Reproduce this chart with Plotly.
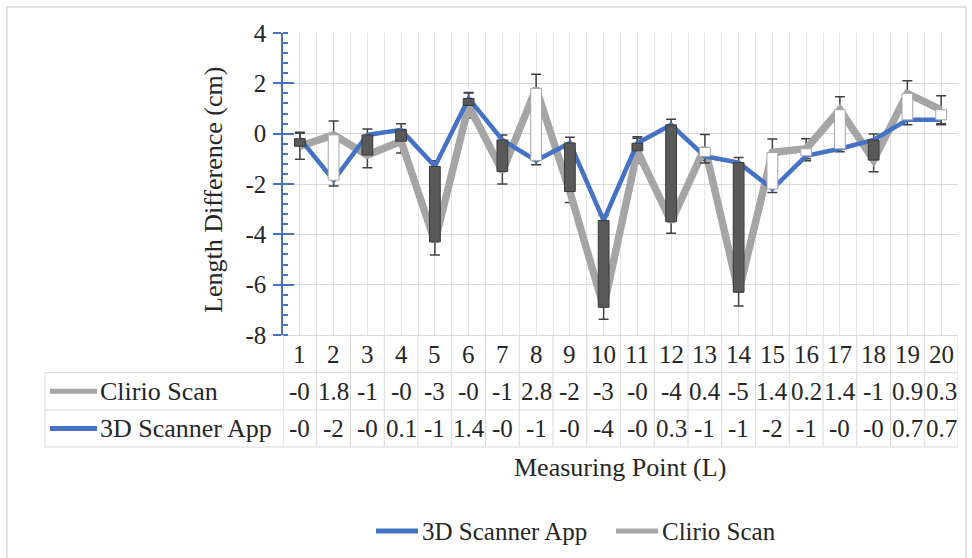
import plotly.graph_objects as go

# ---------------- data ----------------
points = list(range(1, 21))
point_labels = [str(p) for p in points]
scanner_app = [-0.2, -1.85, -0.05, 0.15, -1.3, 1.4, -0.25, -1.07, -0.37, -3.45,
               -0.38, 0.35, -0.9, -1.15, -2.2, -0.88, -0.6, -0.25, 0.55, 0.55]
clirio_scan = [-0.5, -0.05, -0.85, -0.3, -4.3, 1.12, -1.5, 1.8, -2.3, -6.9,
               -0.68, -3.5, -0.55, -6.3, -0.75, -0.6, 0.95, -1.05, 1.6, 0.95]
scanner_err = [0.26, 0.23, 0.24, 0.24, 0.22, 0.24, 0.2, 0.17, 0.23, 0.2,
               0.26, 0.22, 0.27, 0.2, 0.14, 0.2, 0.12, 0.24, 0.2, 0.2]
clirio_err = [0.52, 0.55, 0.5, 0.47, 0.52, 0.5, 0.5, 0.56, 0.44, 0.47,
              0.5, 0.46, 0.52, 0.55, 0.54, 0.4, 0.52, 0.46, 0.5, 0.56]
table_clirio = ["-0", "1.8", "-1", "-0", "-3", "-0", "-1", "2.8", "-2", "-3",
                "-0", "-4", "0.4", "-5", "1.4", "0.2", "1.4", "-1", "0.9", "0.3"]
table_scanner = ["-0", "-2", "-0", "0.1", "-1", "1.4", "-0", "-1", "-0", "-4",
                 "-0", "0.3", "-1", "-1", "-2", "-1", "-0", "-0", "0.7", "0.7"]
series_names = ["3D Scanner App", "Clirio Scan"]
y_ticks = [-8, -6, -4, -2, 0, 2, 4]

# ---------------- layout helpers ----------------
W, H = 972, 558
L, R, T, B = 283, 958, 33, 335
FONT = "Liberation Serif"
TXT = "#262626"
BLUE = "#4472C4"
GRAY = "#A5A5A5"
GRID = "#d9d9d9"


def px(xp):
    return (xp - L) / (R - L)


def py(yp):
    return (B - yp) / (B - T)


fig = go.Figure()

# lines with error bars (base subplot)
fig.add_trace(go.Scatter(
    x=points, y=clirio_scan, mode="lines", name=series_names[1],
    line=dict(color=GRAY, width=7.5), showlegend=False,
    error_y=dict(type="data", array=clirio_err, color="#404040", thickness=1.5, width=5)))
fig.add_trace(go.Scatter(
    x=points, y=scanner_app, mode="lines", name=series_names[0],
    line=dict(color=BLUE, width=4.5), showlegend=False,
    error_y=dict(type="data", array=scanner_err, color="#404040", thickness=1.5, width=5)))

# up/down bars (overlay subplot, drawn above lines)
down_base = [c if c < s else None for s, c in zip(scanner_app, clirio_scan)]
down_h = [s - c if c < s else None for s, c in zip(scanner_app, clirio_scan)]
up_base = [s if c >= s else None for s, c in zip(scanner_app, clirio_scan)]
up_h = [c - s if c >= s else None for s, c in zip(scanner_app, clirio_scan)]
fig.add_trace(go.Bar(x=points, y=down_h, base=down_base, width=0.32,
                     marker=dict(color="#595959", line=dict(color="#3a3a3a", width=1)),
                     xaxis="x2", yaxis="y2", showlegend=False))
fig.add_trace(go.Bar(x=points, y=up_h, base=up_base, width=0.32,
                     marker=dict(color="#ffffff", line=dict(color="#a6a6a6", width=1)),
                     xaxis="x2", yaxis="y2", showlegend=False))

shapes = []
annotations = []

# outer chart border
shapes.append(dict(type="rect", xref="paper", yref="paper",
                   x0=px(7), x1=px(966), y0=py(7), y1=py(600),
                   line=dict(color=GRID, width=1.5), fillcolor="rgba(0,0,0,0)", layer="below"))

# data table lines
ROW0, ROW1, ROW2, ROW3 = 335, 372.7, 410, 447
for yy in (ROW1, ROW2, ROW3):
    shapes.append(dict(type="line", xref="paper", yref="paper",
                       x0=px(45), x1=px(R), y0=py(yy), y1=py(yy),
                       line=dict(color=GRID, width=1)))
shapes.append(dict(type="line", xref="paper", yref="paper",
                   x0=px(45), x1=px(45), y0=py(ROW1), y1=py(ROW3),
                   line=dict(color=GRID, width=1)))
for k in range(len(points) + 1):
    xb = points[0] - 0.5 + k
    shapes.append(dict(type="line", xref="x", yref="paper",
                       x0=xb, x1=xb, y0=py(ROW0), y1=py(ROW3),
                       line=dict(color=GRID, width=1)))

# table keys
shapes.append(dict(type="line", xref="paper", yref="paper",
                   x0=px(50), x1=px(97), y0=py((ROW1 + ROW2) / 2), y1=py((ROW1 + ROW2) / 2),
                   line=dict(color=GRAY, width=5)))
shapes.append(dict(type="line", xref="paper", yref="paper",
                   x0=px(50), x1=px(97), y0=py((ROW2 + ROW3) / 2), y1=py((ROW2 + ROW3) / 2),
                   line=dict(color=BLUE, width=5)))

tfont = dict(family=FONT, size=25, color=TXT)
annotations.append(dict(xref="paper", yref="paper", x=px(98), y=py((ROW1 + ROW2) / 2),
                        text=series_names[1], showarrow=False, xanchor="left",
                        yanchor="middle", font=dict(family=FONT, size=26, color=TXT)))
annotations.append(dict(xref="paper", yref="paper", x=px(98), y=py((ROW2 + ROW3) / 2),
                        text=series_names[0], showarrow=False, xanchor="left",
                        yanchor="middle", font=dict(family=FONT, size=26, color=TXT)))
for p, lab, c, s in zip(points, point_labels, table_clirio, table_scanner):
    annotations.append(dict(xref="x", yref="paper", x=p, y=py((ROW0 + ROW1) / 2 + 1),
                            text=lab, showarrow=False, font=tfont,
                            xanchor="center", yanchor="middle"))
    annotations.append(dict(xref="x", yref="paper", x=p, y=py((ROW1 + ROW2) / 2),
                            text=c, showarrow=False, font=tfont,
                            xanchor="center", yanchor="middle"))
    annotations.append(dict(xref="x", yref="paper", x=p, y=py((ROW2 + ROW3) / 2),
                            text=s, showarrow=False, font=tfont,
                            xanchor="center", yanchor="middle"))

# axis titles
annotations.append(dict(xref="paper", yref="paper", x=px(213), y=py(190),
                        text="Length Difference (cm)", textangle=-90, showarrow=False,
                        xanchor="center", yanchor="middle",
                        font=dict(family=FONT, size=26, color=TXT)))
annotations.append(dict(xref="paper", yref="paper", x=px(620), y=py(467),
                        text="Measuring Point (L)", showarrow=False,
                        xanchor="center", yanchor="middle",
                        font=dict(family=FONT, size=26, color=TXT)))

# bottom legend
LEG_Y = 531
shapes.append(dict(type="line", xref="paper", yref="paper",
                   x0=px(376), x1=px(418), y0=py(LEG_Y), y1=py(LEG_Y),
                   line=dict(color=BLUE, width=5)))
annotations.append(dict(xref="paper", yref="paper", x=px(420), y=py(LEG_Y),
                        text=series_names[0], showarrow=False, xanchor="left",
                        yanchor="middle", font=tfont))
shapes.append(dict(type="line", xref="paper", yref="paper",
                   x0=px(616), x1=px(658), y0=py(LEG_Y), y1=py(LEG_Y),
                   line=dict(color=GRAY, width=5)))
annotations.append(dict(xref="paper", yref="paper", x=px(660), y=py(LEG_Y),
                        text=series_names[1], showarrow=False, xanchor="left",
                        yanchor="middle", font=tfont))

fig.update_layout(
    width=W, height=H,
    margin=dict(l=L, r=W - R, t=T, b=H - B, pad=0),
    paper_bgcolor="white", plot_bgcolor="white",
    barmode="overlay",
    showlegend=False,
    shapes=shapes, annotations=annotations,
    xaxis=dict(range=[0.5, 20.5], tickmode="linear", tick0=0.5, dtick=0.5,
               showticklabels=False, ticks="", showgrid=True, gridcolor="#e6e6e6",
               gridwidth=1, zeroline=False, showline=True, linecolor=GRID, linewidth=1),
    yaxis=dict(range=[-8, 4], tickmode="array", tickvals=y_ticks,
               ticktext=[str(v) for v in y_ticks],
               showgrid=True, gridcolor=GRID, gridwidth=1, zeroline=False,
               showline=True, linecolor=BLUE, linewidth=1.5,
               ticks="outside", ticklen=8, tickwidth=1.5, tickcolor=BLUE,
               ticklabelstandoff=2,
               tickfont=dict(family=FONT, size=25, color=TXT),
               minor=dict(dtick=0.4, tick0=0, ticks="inside", ticklen=5,
                          tickwidth=1.5, tickcolor=BLUE, showgrid=False)),
    xaxis2=dict(range=[0.5, 20.5], overlaying="x", visible=False),
    yaxis2=dict(range=[-8, 4], overlaying="y", side="left", tickmode="array",
                tickvals=y_ticks, ticks="inside", ticklen=11, tickwidth=1.5,
                tickcolor=BLUE, showticklabels=False, showgrid=False,
                zeroline=False, showline=False),
)

fig.write_html("out.html")
